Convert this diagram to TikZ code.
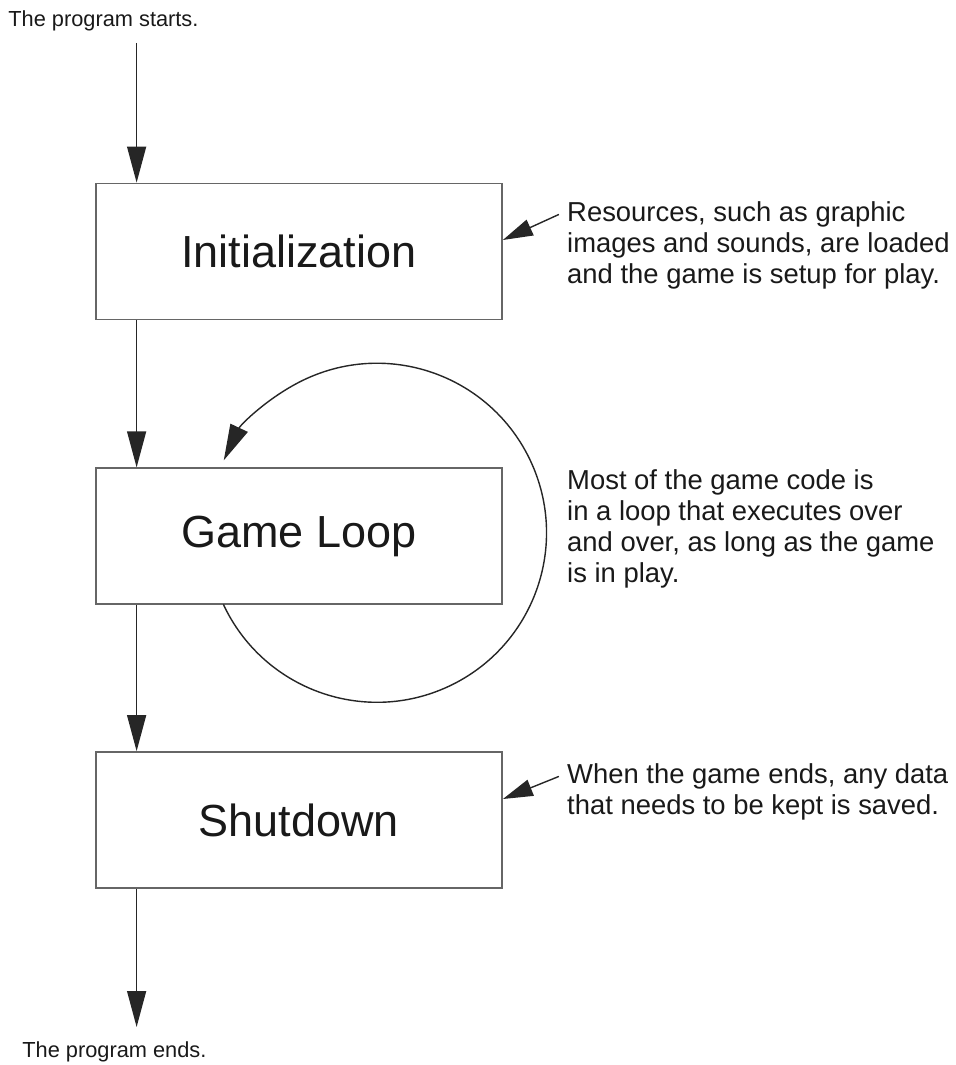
\documentclass[tikz,border=0pt]{standalone}
\usepackage{fontspec}
\setmainfont{Liberation Sans}
\usepackage{xcolor}
\usepackage{tikz}
\usetikzlibrary{arrows.meta,positioning}

\begin{document}
\begin{tikzpicture}[
  stagebox/.style={
    draw=black!60,
    line width=1pt,
    minimum width=8.12cm,
    minimum height=2.72cm,
    font=\fontsize{25.6}{30}\selectfont,
    text=black!90
  },
  note/.style={font=\fontsize{15.6}{17.6}\selectfont, align=left, text=black!90, inner sep=0pt},
  endnote/.style={font=\fontsize{12.4}{15}\selectfont, text=black!90, inner sep=0pt},
  flow/.style={-{Triangle[length=0.72cm, width=0.38cm]}, line width=0.8pt, draw=black!85},
  pointer/.style={-{Triangle[length=0.6cm, width=0.34cm]}, line width=0.8pt, draw=black!85}
]

\useasboundingbox (0,0) rectangle (19.1,-21.3);

% the three stages, stacked
\node[stagebox] (init) at (5.98,-5.03) {Initialization};
\node[stagebox, below=2.94cm of init] (loop) {Game Loop};
\node[stagebox, below=2.92cm of loop] (shut) {Shutdown};

\node[endnote, anchor=base west] (start) at (0.16,-0.52) {The program starts.};
\node[endnote, anchor=base west] (finish) at (0.44,-21.14) {The program ends.};

\coordinate (spine) at ([xshift=0.83cm]init.north west);
\coordinate (bottomtip) at ([xshift=0.83cm]shut.south west |- 0,-20.54);

\draw[flow] (start.south -| spine) ++(0,-0.24) -- (spine);
\draw[flow] ([xshift=0.83cm]init.south west) -- ([xshift=0.83cm]loop.north west);
\draw[flow] ([xshift=0.83cm]loop.south west) -- ([xshift=0.83cm]shut.north west);
\draw[flow] ([xshift=0.83cm]shut.south west) -- (bottomtip);

% the loop round the middle stage
\coordinate (loopc) at ([shift={(1.56,0.07)}]loop.center);
\draw[flow] (loopc) ++(205:3.39) arc[start angle=205, end angle=514.7, radius=3.39cm];

\node[note, anchor=west, right=1.28cm of init, yshift=0.12cm] (initnote)
  {Resources, such as graphic\\images and sounds, are loaded\\and the game is setup for play.};
\node[note, anchor=west, right=1.28cm of loop, yshift=0.14cm] (loopnote)
  {Most of the game code is\\in a loop that executes over\\and over, as long as the game\\is in play.};
\node[note, anchor=west, right=1.28cm of shut, yshift=0.56cm] (shutnote)
  {When the game ends, any data\\that needs to be kept is saved.};

\draw[pointer] ([shift={(-0.16,-0.26)}]initnote.north west) -- ([yshift=0.23cm]init.east);
\draw[pointer] ([shift={(-0.16,-0.26)}]shutnote.north west) -- ([yshift=0.42cm]shut.east);

\end{tikzpicture}
\end{document}
